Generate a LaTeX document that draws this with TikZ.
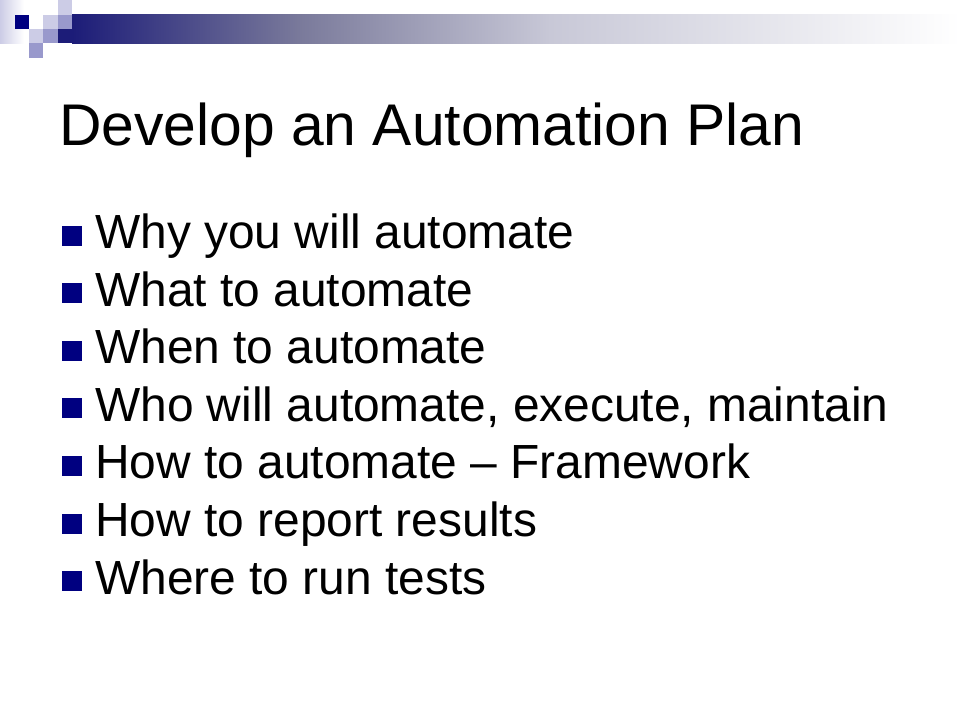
\documentclass[tikz,border=0pt]{standalone}
\usepackage{fontspec}
\setmainfont{Liberation Sans}
\usepackage{tikz}

\definecolor{navy}{RGB}{0,0,128}
\definecolor{lightlav}{RGB}{204,204,230}
\definecolor{midlav}{RGB}{153,153,204}
\definecolor{barA}{RGB}{28,28,120}
\definecolor{barB}{RGB}{122,122,155}
\definecolor{barC}{RGB}{200,200,215}

\begin{document}
\begin{tikzpicture}[
	x=1pt, y=-1pt,
	sq/.style={inner sep=0, minimum size=14.4pt, anchor=north west},
	bul/.style={fill=navy, inner sep=0, minimum size=20pt},
	item/.style={anchor=base west, inner sep=0, font=\fontsize{47.9}{57}\selectfont},
	title/.style={anchor=base west, inner sep=0, font=\fontsize{58.8}{70}\selectfont}
]
	\useasboundingbox[fill=white] (0,0) rectangle (960,720);

	% Draw corner squares
	\def\u{14.4}
	\fill[left color=lightlav, right color=white] (0,0) rectangle (24,3*\u);
	\node[sq, fill=navy] (s11) at (\u,\u) {};
	\node[sq, fill=lightlav] (s40) at (4*\u,0) {};
	\node[sq, fill=lightlav] (s31) at (3*\u,\u) {};
	\node[sq, fill=midlav] (s41) at (4*\u,\u) {};
	\node[sq, fill=lightlav] (s22) at (2*\u,2*\u) {};
	\node[sq, fill=midlav] (s32) at (3*\u,2*\u) {};
	\node[sq, fill=midlav] (s23) at (2*\u,3*\u) {};

	% Draw the bar
	\fill[barA] (4*\u,2*\u) rectangle (5*\u+0.5,3*\u);
	\fill[left color=barA, right color=barB] (5*\u,\u) rectangle (300.5,3*\u);
	\fill[left color=barB, right color=barC] (300,\u) rectangle (550.5,3*\u);
	\fill[left color=barC, right color=white] (550,\u) rectangle (960,3*\u);

	\node[title] (head) at (59,145) {Develop an Automation Plan};

	\foreach \t [count=\i] in {
		{Why you will automate},
		{What to automate},
		{When to automate},
		{Who will automate, execute, maintain},
		{How to automate – Framework},
		{How to report results},
		{Where to run tests}}
	{
		\node[item] (t\i) at (95,248.5+57.6*\i-57.6) {\t};
		\node[bul] (b\i) at (71.5,235.5+57.6*\i-57.6) {};
	}
\end{tikzpicture}
\end{document}
